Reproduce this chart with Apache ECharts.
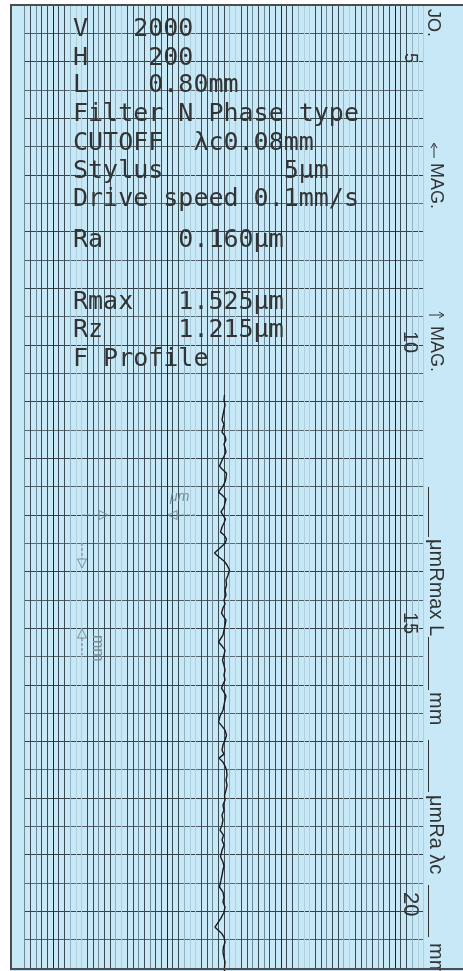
<!DOCTYPE html>
<html>
<head>
<meta charset="utf-8">
<title>Roughness profile</title>
<script src="https://cdn.jsdelivr.net/npm/echarts@6/dist/echarts.min.js"></script>
<style>
  html, body { margin: 0; padding: 0; background: #fff; }
  #chart { width: 463px; height: 971px; }
</style>
</head>
<body>
<div id="chart"></div>
<script>
// printed header of the record
const infoLines = [
  'V   2000',
  'H    200',
  'L    0.80mm',
  'Filter N Phase type',
  'CUTOFF  λc0.08mm',
  'Stylus        5μm',
  'Drive speed 0.1mm/s',
  'Ra     0.160μm',
  'Rmax   1.525μm',
  'Rz     1.215μm',
  'F Profile'
];
// numbers printed along the right edge of the paper
const lengthTicks = ['5', '10', '15', '20'];
const marginLabels = ['JO.', 'MAG.', 'MAG.', 'μmRmax L', 'mm', 'μmRa λc', 'mm'];

// profile trace: position along the paper (0.1 division) and stylus position (minor divisions)
const profilePos = [
  137.7, 139.5, 141.2, 143.0, 144.8, 146.5, 148.0, 149.4, 150.8, 152.2,
  153.6, 155.0, 156.4, 157.8, 159.3, 160.7, 162.8, 163.8, 165.3, 167.0,
  168.4, 169.8, 172.0, 173.0, 174.4, 175.8, 177.3, 179.0, 180.1, 181.5,
  182.9, 184.3, 186.1, 187.1, 188.6, 190.0, 191.7, 193.5, 194.9, 196.3,
  197.7, 199.5, 201.3, 203.0, 204.8, 206.6, 208.3, 210.1, 211.5, 212.9,
  214.7, 216.1, 217.2, 218.9, 220.7, 222.5, 224.9, 226.3, 227.8, 229.5,
  231.3, 233.1, 234.8, 236.6, 238.3, 239.8, 241.2, 242.6, 244.0, 245.4,
  247.2, 249.0, 251.1, 253.2, 254.6, 256.0, 257.8, 259.5, 261.3, 263.1,
  264.5, 265.9, 267.3, 268.7, 270.1, 271.9, 273.7, 275.4, 277.2, 279.0,
  280.7, 282.5, 284.3, 286.0, 287.8, 289.5, 291.3, 293.1, 294.8, 296.6,
  298.4, 300.8, 302.6, 304.0, 305.4, 307.2, 309.0, 311.4, 313.2, 315.0,
  316.7, 318.5, 320.3, 322.4, 325.6, 326.6, 327.7, 329.1, 330.9, 332.6,
  334.4, 336.2, 337.9, 339.7, 341.1
];
const profileAmp = [
  35.09, 35.00, 35.18, 35.00, 34.82, 34.65, 35.00, 34.82, 34.65, 35.18,
  35.35, 35.00, 35.18, 35.35, 35.00, 34.65, 34.21, 34.65, 35.44, 35.35,
  35.18, 34.82, 34.04, 34.65, 35.35, 35.18, 35.00, 34.47, 34.82, 35.26,
  35.00, 34.65, 34.39, 35.00, 35.44, 35.18, 34.30, 33.33, 34.12, 35.00,
  35.53, 35.96, 35.70, 35.35, 35.44, 35.18, 35.35, 35.00, 35.18, 34.82,
  34.56, 35.00, 35.35, 35.18, 35.00, 34.82, 34.04, 34.65, 35.18, 35.00,
  34.74, 35.00, 35.18, 35.00, 35.18, 34.82, 34.56, 35.00, 35.35, 35.18,
  35.00, 34.82, 34.30, 34.04, 34.65, 35.18, 35.44, 35.18, 34.82, 34.65,
  35.00, 34.12, 34.82, 35.18, 35.44, 35.53, 35.35, 35.53, 35.35, 35.09,
  35.18, 34.82, 35.00, 34.65, 34.82, 34.65, 34.30, 34.91, 34.65, 35.00,
  34.65, 34.39, 34.82, 35.00, 34.82, 34.65, 34.47, 34.21, 34.82, 35.00,
  34.82, 35.18, 35.00, 34.47, 33.42, 33.95, 34.56, 35.00, 35.18, 34.91,
  34.82, 35.00, 35.18, 35.09, 35.09
];

const chart = echarts.init(document.getElementById('chart'));

// shades of the printed grid lines, one per minor division (20 per major)
const D = '#3b4953', M = '#6d8795', L = '#93b2c1', VL = '#afcfdd', MAJ = '#1e2428';
const vLineColors = [M, D, M, D, D, MAJ, D, D, L, VL, VL, D, D, M, D, D, L, VL, D, D];
const hLineColors = ['#36424a', '#4f5d66', '#36424a', '#5a6971'];

const ink = '#333';
const grey = '#7d8d96';
const mono = '25px "DejaVu Sans Mono"';
const side = '"Liberation Sans", Arial, sans-serif';

const infoY = [29.5, 58, 85.5, 114.5, 143, 171, 199.5, 240, 302, 330, 359];

let graphics = [];
infoLines.forEach(function (t, i) {
  graphics.push({
    type: 'text', x: 73, y: infoY[i], z: 50, silent: true,
    style: { text: t, font: mono, fill: ink, textAlign: 'left', textVerticalAlign: 'middle', align: 'left', verticalAlign: 'middle' }
  });
});

function sideText(t, x, y, size, color) {
  graphics.push({
    type: 'text', x: x, y: y, rotation: -Math.PI / 2, z: 50, silent: true,
    style: { text: t, font: size + 'px ' + side, fill: color || ink, textAlign: 'left', textVerticalAlign: 'middle', align: 'left', verticalAlign: 'middle' }
  });
}
function seg(x1, y1, x2, y2, color, w, dash) {
  graphics.push({
    type: 'line', z: 50, silent: true,
    shape: { x1: x1, y1: y1, x2: x2, y2: y2 },
    style: { stroke: color, lineWidth: w || 1, lineDash: dash || null }
  });
}
function head(points, color, closed) {
  graphics.push({
    type: closed === false ? 'polyline' : 'polygon', z: 50, silent: true,
    shape: { points: points },
    style: { fill: 'none', stroke: color, lineWidth: 1 }
  });
}

// right margin labels
sideText(marginLabels[0], 433, 9, 18);
sideText(lengthTicks[0], 410, 53, 18);
seg(434, 158, 434, 144, ink, 1);
head([[431, 148], [434, 143], [437, 148]], ink, false);
sideText(marginLabels[1], 436, 163, 18);
seg(429, 315, 443, 315, ink, 1);
head([[439, 312], [444, 315], [439, 318]], ink, false);
sideText(marginLabels[2], 436, 326, 18);
sideText(lengthTicks[1], 410, 331, 20);
seg(428.5, 487, 428.5, 537, ink, 1);
sideText(marginLabels[3], 436, 539, 20);
seg(428.5, 637, 428.5, 690, ink, 1);
sideText(marginLabels[4], 436, 692, 20);
sideText(lengthTicks[2], 410, 612, 20);
seg(428.5, 740, 428.5, 792, ink, 1);
sideText(marginLabels[5], 436, 795, 20);
seg(428.5, 885, 428.5, 937, ink, 1);
sideText(marginLabels[6], 436, 943, 20);
sideText(lengthTicks[3], 410, 892, 22);

// grey direction arrows printed on the paper
seg(82, 515, 99, 515, grey, 1.2, [3, 2]);
head([[99, 510.5], [108, 515], [99, 519.5]], grey);
seg(177, 515, 195, 515, grey, 1.2, [3, 2]);
head([[177, 510.5], [168, 515], [177, 519.5]], grey);
graphics.push({
  type: 'text', x: 170, y: 497, z: 50, silent: true,
  style: { text: 'μm', font: 'italic 14px ' + side, fill: grey, textAlign: 'left', textVerticalAlign: 'middle', align: 'left', verticalAlign: 'middle' }
});
seg(82, 543, 82, 559, grey, 1.2, [3, 2]);
head([[77.5, 559], [82, 568], [86.5, 559]], grey);
seg(82, 638, 82, 655, grey, 1.2, [3, 2]);
head([[77.5, 638], [82, 629], [86.5, 638]], grey);
sideText('mm', 97, 635, 16, grey);

// paper edge
graphics.push({ type: 'rect', z: 100, silent: true, shape: { x: 0, y: 0, width: 10, height: 971 }, style: { fill: '#fff' } });
graphics.push({ type: 'rect', z: 100, silent: true, shape: { x: 0, y: 0, width: 463, height: 4 }, style: { fill: '#fff' } });
graphics.push({ type: 'rect', z: 101, silent: true, shape: { x: 11, y: 5, width: 470, height: 964 }, style: { fill: 'none', stroke: '#4d4d4d', lineWidth: 2 } });

let option = {
  backgroundColor: '#c6e8f7',
  animation: false,
  grid: { left: 24.5, right: 39.5, top: 5, bottom: 3 },
  xAxis: {
    type: 'value', min: 0, max: 70, interval: 1,
    axisLine: { show: false }, axisTick: { show: false }, axisLabel: { show: false },
    splitLine: { show: true, lineStyle: { color: vLineColors, width: 1 } }
  },
  yAxis: {
    type: 'value', inverse: true, min: 0, max: 340, interval: 10,
    axisLine: { show: false }, axisTick: { show: false }, axisLabel: { show: false },
    splitLine: { show: true, lineStyle: { color: hLineColors, width: 1 } }
  },
  series: [{
    type: 'line',
    data: profilePos.map(function (p, i) { return [profileAmp[i], p]; }),
    showSymbol: false,
    clip: false,
    z: 10,
    lineStyle: { color: '#1b1b1b', width: 1.4 }
  }],
  graphic: graphics
};
chart.setOption(option);
</script>
</body>
</html>
